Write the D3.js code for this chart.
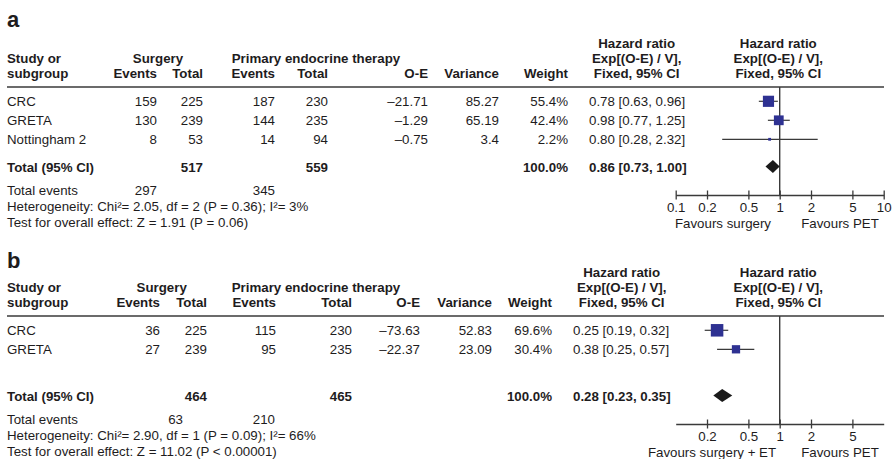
<!DOCTYPE html>
<html>
<head>
<meta charset="utf-8">
<script src="https://cdn.jsdelivr.net/npm/d3@7"></script>
<style>
  html, body { margin: 0; padding: 0; background: #fff; }
  svg { display: block; font-family: "Liberation Sans", Arial, Helvetica, sans-serif; }
</style>
</head>
<body>
<svg id="chart" width="894" height="459"></svg>
<script>
// ---- Panel a: overall survival ----
const studiesA      = ["CRC", "GRETA", "Nottingham 2"];
const surgEventsA   = [159, 130, 8];
const surgTotalA    = [225, 239, 53];
const petEventsA    = [187, 144, 14];
const petTotalA     = [230, 235, 94];
const oeA           = [-21.71, -1.29, -0.75];
const varianceA     = ["85.27", "65.19", "3.4"];
const weightA       = [55.4, 42.4, 2.2];
const hrA           = [0.78, 0.98, 0.80];
const hrLowA        = [0.63, 0.77, 0.28];
const hrHighA       = [0.96, 1.25, 2.32];
const pooledA       = [0.86, 0.73, 1.00];      // estimate, lower, upper
const totalsA       = [517, 559];              // surgery, PET participants
const totalEventsA  = [297, 345];
const hetA          = "Heterogeneity: Chi\u00B2= 2.05, df = 2 (P = 0.36); I\u00B2= 3%";
const effectA       = "Test for overall effect: Z = 1.91 (P = 0.06)";
const ticksA        = [0.1, 0.2, 0.5, 1, 2, 5, 10];
const favoursA      = ["Favours surgery", "Favours PET"];

// ---- Panel b: local control ----
const studiesB      = ["CRC", "GRETA"];
const surgEventsB   = [36, 27];
const surgTotalB    = [225, 239];
const petEventsB    = [115, 95];
const petTotalB     = [230, 235];
const oeB           = [-73.63, -22.37];
const varianceB     = ["52.83", "23.09"];
const weightB       = [69.6, 30.4];
const hrB           = [0.25, 0.38];
const hrLowB        = [0.19, 0.25];
const hrHighB       = [0.32, 0.57];
const pooledB       = [0.28, 0.23, 0.35];
const totalsB       = [464, 465];
const totalEventsB  = [63, 210];
const hetB          = "Heterogeneity: Chi\u00B2= 2.90, df = 1 (P = 0.09); I\u00B2= 66%";
const effectB       = "Test for overall effect: Z = 11.02 (P < 0.00001)";
const ticksB        = [0.2, 0.5, 1, 2, 5];
const favoursB      = ["Favours surgery + ET", "Favours PET"];

const svg = d3.select("#chart");
const INK = "#1e1c1d";
const LINE = "#3a3a3a";
const BLUE = "#2e3192";
const FS = 13.3;

const f2 = d3.format(".2f");
const f1 = d3.format(".1f");
const minus = v => (v < 0 ? "\u2013" + f2(-v) : f2(v));
const ciText = (h, l, u) => `${f2(h)} [${f2(l)}, ${f2(u)}]`;

// Hazard-ratio scale shared by both forest plots
const x = d3.scaleLog().domain([0.1, 10]).range([675.7, 883.7]);
const boxSize = d3.scaleSqrt().domain([0, 100]).range([0, 15]);

function text(g, s, px, py, opts = {}) {
  return g.append("text")
    .attr("x", px).attr("y", py)
    .attr("text-anchor", opts.anchor || "start")
    .attr("font-size", opts.size || FS)
    .attr("font-weight", opts.bold ? "bold" : "normal")
    .attr("fill", INK)
    .text(s);
}

function drawPanel(p) {
  const g = svg.append("g").attr("transform", `translate(0,${p.dy})`);
  const c = p.cols;

  text(svg, p.label, 7, p.titleY, { size: 22, bold: true });

  // header block
  text(g, "Study or", 7, 63, { bold: true });
  text(g, "subgroup", 7, 78, { bold: true });
  text(g, "Surgery", c.surgCenter, 63, { bold: true, anchor: "middle" });
  text(g, "Primary endocrine therapy", 231.7, 63, { bold: true });
  text(g, "Events", c.se, 78, { bold: true, anchor: "end" });
  text(g, "Total", c.st, 78, { bold: true, anchor: "end" });
  text(g, "Events", c.pe, 78, { bold: true, anchor: "end" });
  text(g, "Total", c.pt, 78, { bold: true, anchor: "end" });
  text(g, "O-E", c.oe, 78, { bold: true, anchor: "end" });
  text(g, "Variance", c.v, 78, { bold: true, anchor: "end" });
  text(g, "Weight", c.w, 78, { bold: true, anchor: "end" });
  ["Hazard ratio", "Exp[(O-E) / V],", "Fixed, 95% CI"].forEach((s, i) => {
    text(g, s, c.hrCenter, 48 + i * 15, { bold: true, anchor: "middle" });
    text(g, s, 778.3, 48 + i * 15, { bold: true, anchor: "middle" });
  });

  g.append("line").attr("x1", 7).attr("x2", 884).attr("y1", 87).attr("y2", 87)
    .attr("stroke", LINE).attr("stroke-width", 1.3);

  const axisY = 195;
  // line of no effect
  g.append("line").attr("x1", x(1)).attr("x2", x(1)).attr("y1", 87).attr("y2", axisY)
    .attr("stroke", LINE).attr("stroke-width", 1.4);

  // study rows
  const rowBase = i => 106 + i * 19;
  p.studies.forEach((name, i) => {
    const y = rowBase(i);
    text(g, name, 7, y);
    text(g, p.surgEvents[i], c.se, y, { anchor: "end" });
    text(g, p.surgTotal[i], c.st, y, { anchor: "end" });
    text(g, p.petEvents[i], c.pe, y, { anchor: "end" });
    text(g, p.petTotal[i], c.pt, y, { anchor: "end" });
    text(g, minus(p.oe[i]), c.oe, y, { anchor: "end" });
    text(g, p.variance[i], c.v, y, { anchor: "end" });
    text(g, f1(p.weight[i]) + "%", c.w, y, { anchor: "end" });
    text(g, ciText(p.hr[i], p.lo[i], p.hi[i]), c.hrLeft, y);

    const cy = y - 4.7;
    g.append("line").attr("x1", x(p.lo[i])).attr("x2", x(p.hi[i]))
      .attr("y1", cy).attr("y2", cy).attr("stroke", LINE).attr("stroke-width", 1.2);
    const s = Math.max(2.8, boxSize(p.weight[i]));
    g.append("rect").attr("x", x(p.hr[i]) - s / 2).attr("y", cy - s / 2)
      .attr("width", s).attr("height", s).attr("fill", BLUE);
  });

  // pooled row
  const ty = 171.5;
  text(g, "Total (95% CI)", 7, ty, { bold: true });
  text(g, p.totals[0], c.st, ty, { bold: true, anchor: "end" });
  text(g, p.totals[1], c.pt, ty, { bold: true, anchor: "end" });
  text(g, "100.0%", c.w, ty, { bold: true, anchor: "end" });
  text(g, ciText(p.pooled[0], p.pooled[1], p.pooled[2]), c.hrLeft, ty, { bold: true });
  const dyc = ty - 5, h = 6.5;
  g.append("path")
    .attr("d", `M${x(p.pooled[1])},${dyc}L${x(p.pooled[0])},${dyc - h}L${x(p.pooled[2])},${dyc}L${x(p.pooled[0])},${dyc + h}Z`)
    .attr("fill", "#1a1a1a");

  // footnotes
  text(g, "Total events", 7, 195);
  text(g, p.totalEvents[0], c.teSurg, 195, { anchor: "end" });
  text(g, p.totalEvents[1], 275, 195, { anchor: "end" });
  text(g, p.het, 7, 210.8);
  text(g, p.effect, 7, 226.5);

  // axis
  const axis = d3.axisBottom(x).tickValues(p.ticks).tickFormat(d3.format("~g"))
    .tickSizeOuter(0).tickSizeInner(4.5).tickPadding(3.5);
  const ag = g.append("g").attr("transform", `translate(0,${axisY})`).call(axis);
  ag.select(".domain").attr("stroke", LINE).attr("stroke-width", 1.3);
  ag.selectAll(".tick line").attr("y1", -4.5).attr("y2", 4.5)
    .attr("stroke", LINE).attr("stroke-width", 1.3);
  ag.selectAll(".tick text").attr("font-size", FS).attr("fill", INK)
    .attr("font-family", "Liberation Sans, Arial, sans-serif");

  text(g, p.favours[0], p.favX[0], 227.5, { anchor: "middle" });
  text(g, p.favours[1], p.favX[1], 227.5, { anchor: "middle" });
}

drawPanel({
  label: "a", titleY: 27, dy: 0,
  studies: studiesA, surgEvents: surgEventsA, surgTotal: surgTotalA,
  petEvents: petEventsA, petTotal: petTotalA, oe: oeA, variance: varianceA,
  weight: weightA, hr: hrA, lo: hrLowA, hi: hrHighA, pooled: pooledA,
  totals: totalsA, totalEvents: totalEventsA, het: hetA, effect: effectA,
  ticks: ticksA, favours: favoursA, favX: [723, 840],
  cols: { surgCenter: 158, se: 157, st: 203, pe: 275, pt: 328, oe: 428, v: 499, w: 568,
          hrLeft: 589, hrCenter: 636.7, teSurg: 157 }
});

drawPanel({
  label: "b", titleY: 268, dy: 229,
  studies: studiesB, surgEvents: surgEventsB, surgTotal: surgTotalB,
  petEvents: petEventsB, petTotal: petTotalB, oe: oeB, variance: varianceB,
  weight: weightB, hr: hrB, lo: hrLowB, hi: hrHighB, pooled: pooledB,
  totals: totalsB, totalEvents: totalEventsB, het: hetB, effect: effectB,
  ticks: ticksB, favours: favoursB, favX: [712, 840],
  cols: { surgCenter: 161.7, se: 160, st: 207, pe: 276, pt: 352, oe: 420, v: 492, w: 552,
          hrLeft: 573, hrCenter: 621.7, teSurg: 183 }
});
</script>
</body>
</html>
